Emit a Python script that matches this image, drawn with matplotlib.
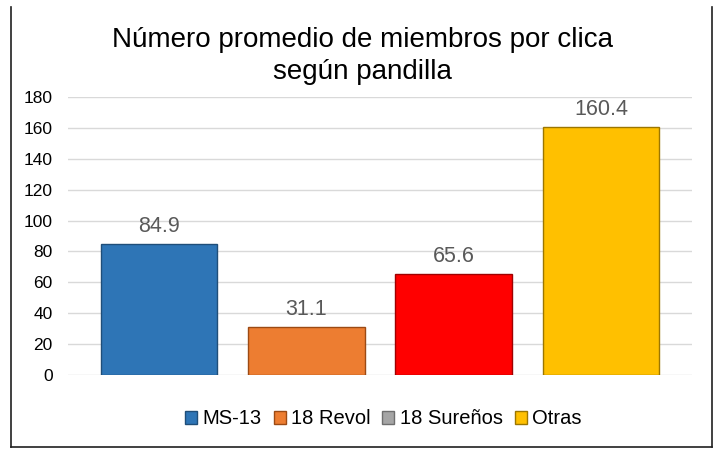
import matplotlib
matplotlib.use('Agg')
import matplotlib.pyplot as plt
from matplotlib.patches import Patch
from matplotlib.lines import Line2D

plt.rcParams['font.family'] = ['Liberation Sans', 'DejaVu Sans']

# data
gangs = ['MS-13', '18 Revol', '18 Sureños', 'Otras']
members = [84.9, 31.1, 65.6, 160.4]
bar_colors = ['#2E75B6', '#ED7D31', '#FF0000', '#FFC000']
bar_edges = ['#1F4E79', '#9C4A14', '#A00000', '#9C7600']
legend_colors = ['#2E75B6', '#ED7D31', '#A5A5A5', '#FFC000']
legend_edges = ['#1F4E79', '#9C4A14', '#6F6F6F', '#9C7600']
yticks = [0, 20, 40, 60, 80, 100, 120, 140, 160, 180]

fig = plt.figure(figsize=(7.15, 4.49), dpi=100)
ax = fig.add_axes([0.095, 0.165, 0.873, 0.619])

x = range(len(gangs))
bars = ax.bar(x, members, width=0.79, color=bar_colors, edgecolor=bar_edges,
              linewidth=1.0, zorder=3)

for b, v in zip(bars, members):
    ax.annotate(f'{v:.1f}', (b.get_x() + b.get_width() / 2, v),
                xytext=(0, 5), textcoords='offset points',
                ha='center', va='bottom', fontsize=15.5, color='#595959')

ax.set_xlim(-0.618, 3.618)
ax.set_ylim(0, 180)
ax.set_yticks(yticks)
ax.set_xticks([])
ax.tick_params(axis='y', length=0, pad=11, labelsize=12.5, labelcolor='#000000')
ax.grid(axis='y', color='#D9D9D9', linewidth=1.0, zorder=0)
for s in ax.spines.values():
    s.set_visible(False)

fig.text(0.507, 0.876, 'Número promedio de miembros por clica\nsegún pandilla',
         ha='center', va='center', fontsize=20, linespacing=1.3)

handles = [Patch(facecolor=c, edgecolor=e, linewidth=1.0)
           for c, e in zip(legend_colors, legend_edges)]
fig.legend(handles, gangs, loc='center', bbox_to_anchor=(0.536, 0.067),
           ncol=4, frameon=False, fontsize=14.5, handlelength=0.6,
           handleheight=0.6, handletextpad=0.25, columnspacing=0.6)

# frame around the chart (left, right, bottom)
fig.add_artist(Line2D([11 / 715, 11 / 715], [0.004, 0.985], transform=fig.transFigure,
                      color='#202020', linewidth=1.2))
fig.add_artist(Line2D([712 / 715, 712 / 715], [0.004, 0.985], transform=fig.transFigure,
                      color='#202020', linewidth=1.2))
fig.add_artist(Line2D([11 / 715, 712 / 715], [0.004, 0.004], transform=fig.transFigure,
                      color='#202020', linewidth=1.2))

fig.savefig('out.png', dpi=100)
